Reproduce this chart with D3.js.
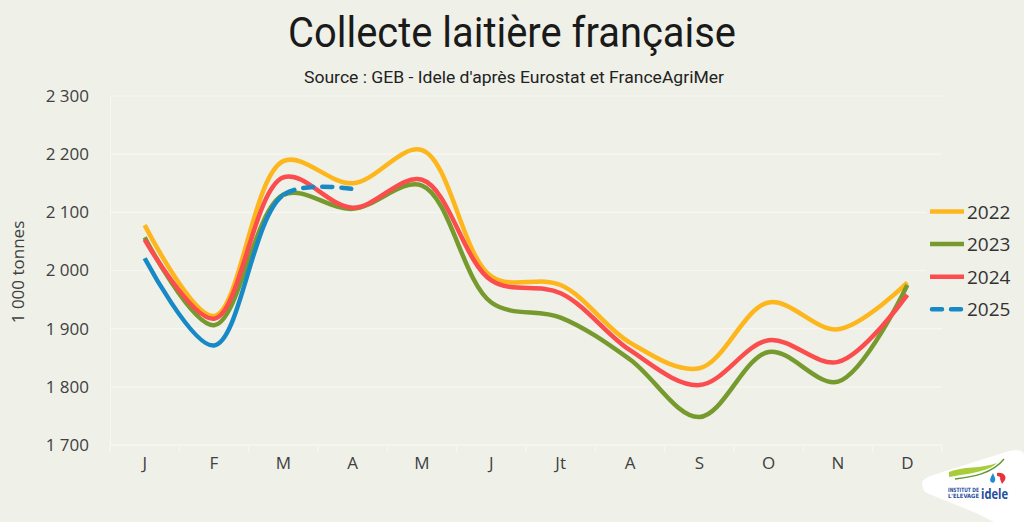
<!DOCTYPE html>
<html><head><meta charset="utf-8">
<script src="https://cdn.jsdelivr.net/npm/d3@7"></script>
<style>body{margin:0;background:#eff0e8;} svg{display:block}</style>
</head><body><svg id="chart" width="1024" height="522"></svg>
<script>
// ---- data ----
const months = ["J","F","M","A","M","J","Jt","A","S","O","N","D"];
const years = ["2022","2023","2024","2025"];
const v2022 = [2078, 1922, 2188, 2150, 2207, 1990, 1975, 1876, 1832, 1945, 1899, 1979];
const v2023 = [2057, 1906, 2130, 2106, 2146, 1945, 1919, 1847, 1748, 1860, 1809, 1975];
const v2024 = [2053, 1917, 2160, 2108, 2156, 1983, 1961, 1863, 1803, 1880, 1843, 1958];
const v2025 = [2021, 1871, 2130, 2140];
const yTicks = [1700, 1800, 1900, 2000, 2100, 2200, 2300];
const titleText = "Collecte laitière française";
const subtitleText = "Source : GEB - Idele d'après Eurostat et FranceAgriMer";
const yTitleText = "1 000 tonnes";
const colors = {"2022":"#fdb61c","2023":"#779a2e","2024":"#fb4c4e","2025":"#1689c6"};

const seriesData = [
  {year:"2022", values:v2022},
  {year:"2023", values:v2023},
  {year:"2024", values:v2024},
  {year:"2025", values:v2025}
];

const W = 1024, H = 522;
const svg = d3.select("#chart");
const bg = "#eff0e8";
svg.append("rect").attr("width", W).attr("height", H).attr("fill", bg);

const x = d3.scaleBand().domain(d3.range(months.length)).range([110, 942]).paddingInner(0).paddingOuter(0);
const y = d3.scaleLinear().domain([1700, 2300]).range([445, 96]);
const cx = i => x(i) + x.bandwidth() / 2;

// title
svg.append("text").attr("x", 512).attr("y", 47).attr("text-anchor", "middle")
  .attr("font-family", "Roboto, 'Open Sans', sans-serif").attr("font-size", 43)
  .attr("fill", "#1a1a1a").attr("textLength", 448).attr("lengthAdjust", "spacingAndGlyphs")
  .text(titleText);
svg.append("text").attr("x", 514).attr("y", 83).attr("text-anchor", "middle")
  .attr("font-family", "Roboto, 'Open Sans', sans-serif").attr("font-size", 16.5)
  .attr("fill", "#222").attr("textLength", 420).attr("lengthAdjust", "spacingAndGlyphs")
  .text(subtitleText);

// gridlines
const gridColor = "#f8f8f2";
svg.append("g").selectAll("line").data(yTicks.slice(1)).join("line")
  .attr("x1", 110).attr("x2", 942)
  .attr("y1", d => y(d)).attr("y2", d => y(d))
  .attr("stroke", gridColor).attr("stroke-width", 1.2);
svg.append("line").attr("x1", 110.5).attr("x2", 110.5).attr("y1", y(2300)).attr("y2", y(1700))
  .attr("stroke", gridColor).attr("stroke-width", 1);

// x axis base line and boundary ticks
svg.append("line").attr("x1", 110).attr("x2", 942).attr("y1", y(1700)).attr("y2", y(1700))
  .attr("stroke", "#f8f8f2").attr("stroke-width", 1.5);
const bounds = d3.range(months.length).map(i => x(i)).concat([x.range()[1]]);
svg.append("g").selectAll("line").data(bounds).join("line")
  .attr("x1", d => d).attr("x2", d => d)
  .attr("y1", y(1700)).attr("y2", y(1700) + 7)
  .attr("stroke", "#f8f8f2").attr("stroke-width", 1.2);

// x axis labels
const xAxis = d3.axisBottom(x).tickSize(0).tickPadding(12).tickFormat(i => months[i]);
const gx = svg.append("g").attr("transform", `translate(0,${y(1700)})`).call(xAxis);
gx.select(".domain").remove();
gx.selectAll("text").attr("font-family", "'Open Sans', sans-serif").attr("font-size", 17).attr("fill", "#404040");

// y axis labels
const loc = d3.formatLocale({decimal: ",", thousands: " ", grouping: [3], currency: ["", ""]});
const yAxis = d3.axisLeft(y).tickValues(yTicks).tickSize(0).tickPadding(21).tickFormat(loc.format(","));
const gy = svg.append("g").attr("transform", "translate(110,0)").call(yAxis);
gy.select(".domain").remove();
gy.selectAll("text").attr("font-family", "'Open Sans', sans-serif").attr("font-size", 17).attr("fill", "#404040");

// y title
svg.append("text").attr("transform", "translate(24,272) rotate(-90)").attr("text-anchor", "middle")
  .attr("font-family", "'Open Sans', sans-serif").attr("font-size", 17).attr("fill", "#404040")
  .text(yTitleText);

// lines
const line = d3.line().x((d, i) => cx(i)).y(d => y(d)).curve(d3.curveCatmullRom.alpha(0.5));
const defs = svg.append("defs");
defs.append("clipPath").attr("id", "clipSolid").append("rect")
  .attr("x", 0).attr("y", 0).attr("width", cx(2)).attr("height", H);
defs.append("clipPath").attr("id", "clipDash").append("rect")
  .attr("x", cx(2)).attr("y", 0).attr("width", W - cx(2)).attr("height", H);

seriesData.forEach(s => {
  if (s.year !== "2025") {
    svg.append("path").attr("d", line(s.values)).attr("fill", "none")
      .attr("stroke", colors[s.year]).attr("stroke-width", 4.5).attr("stroke-linejoin", "round");
  } else {
    svg.append("path").attr("d", line(s.values)).attr("fill", "none")
      .attr("clip-path", "url(#clipSolid)")
      .attr("stroke", colors[s.year]).attr("stroke-width", 4.5);
    const p = svg.append("path").attr("d", line(s.values)).attr("fill", "none")
      .attr("clip-path", "url(#clipDash)")
      .attr("stroke", colors[s.year]).attr("stroke-width", 4.5).attr("stroke-linecap", "round");
    const node = p.node();
    const total = node.getTotalLength();
    const target = cx(2);
    let lo = 0, hi = total;
    for (let k = 0; k < 40; k++) {
      const mid = (lo + hi) / 2;
      if (node.getPointAtLength(mid).x < target) lo = mid; else hi = mid;
    }
    p.attr("stroke-dasharray", "10,9").attr("stroke-dashoffset", -(lo + 2));
  }
});

// legend
const lg = svg.append("g");
lg.append("rect").attr("x", 926).attr("y", 192).attr("width", 98).attr("height", 135).attr("fill", bg);
years.forEach((yr, i) => {
  const yy = 211.5 + i * 32.6;
  const l = lg.append("line").attr("x1", yr === "2025" ? 932 : 930).attr("x2", yr === "2025" ? 961 : 964)
    .attr("y1", yy).attr("y2", yy).attr("stroke", colors[yr]).attr("stroke-width", 4.5);
  if (yr === "2025") l.attr("stroke-dasharray", "10,9").attr("stroke-linecap", "round");
  lg.append("text").attr("x", 967).attr("y", yy + 7).attr("font-family", "'Open Sans', sans-serif")
    .attr("font-size", 19).attr("fill", "#333").text(yr);
});

// logo
const logo = svg.append("g");
logo.append("path")
  .attr("d", "M923,487 C920,482 924,478 933,475 L1006,452 C1016,449 1024,450 1024,455 L1024,522 L994,522 C988,519 982,516 976,513 L929,494 C924,492 923,490 923,487 Z")
  .attr("fill", "#ffffff");
logo.append("path").attr("d", "M949,472 C962,466 982,469 997,463 C988,472 966,474 949,477 Z").attr("fill", "#a9cc3a");
logo.append("path").attr("d", "M955,479 C972,477 992,474 1004,459").attr("fill", "none").attr("stroke", "#5b9a2e").attr("stroke-width", 1.4);
logo.append("path").attr("d", "M993,473 C991,477 989,480 991,482 C993,484 996,482 995,478 Z").attr("fill", "#1f8bd0");
logo.append("path").attr("d", "M997,473 C1003,472 1007,476 1005,480 L1002,484 L1000,479 C1001,477 999,476 997,476 Z").attr("fill", "#e8323c");
logo.append("text").attr("x", 948).attr("y", 492).attr("font-family", "'DejaVu Sans Condensed', 'Liberation Sans', sans-serif")
  .attr("font-size", 5.8).attr("font-weight", "bold").attr("fill", "#1f4e9c").attr("textLength", 31).attr("lengthAdjust", "spacingAndGlyphs").text("INSTITUT DE");
logo.append("text").attr("x", 948).attr("y", 498).attr("font-family", "'DejaVu Sans Condensed', 'Liberation Sans', sans-serif")
  .attr("font-size", 5.8).attr("font-weight", "bold").attr("fill", "#1f4e9c").attr("textLength", 31).attr("lengthAdjust", "spacingAndGlyphs").text("L'ELEVAGE");
logo.append("text").attr("x", 981).attr("y", 498.5).attr("font-family", "'Open Sans', sans-serif")
  .attr("font-size", 15).attr("font-weight", "bold").attr("fill", "#1f4e9c").attr("textLength", 27).attr("lengthAdjust", "spacingAndGlyphs").text("idele");
</script>
</body></html>
